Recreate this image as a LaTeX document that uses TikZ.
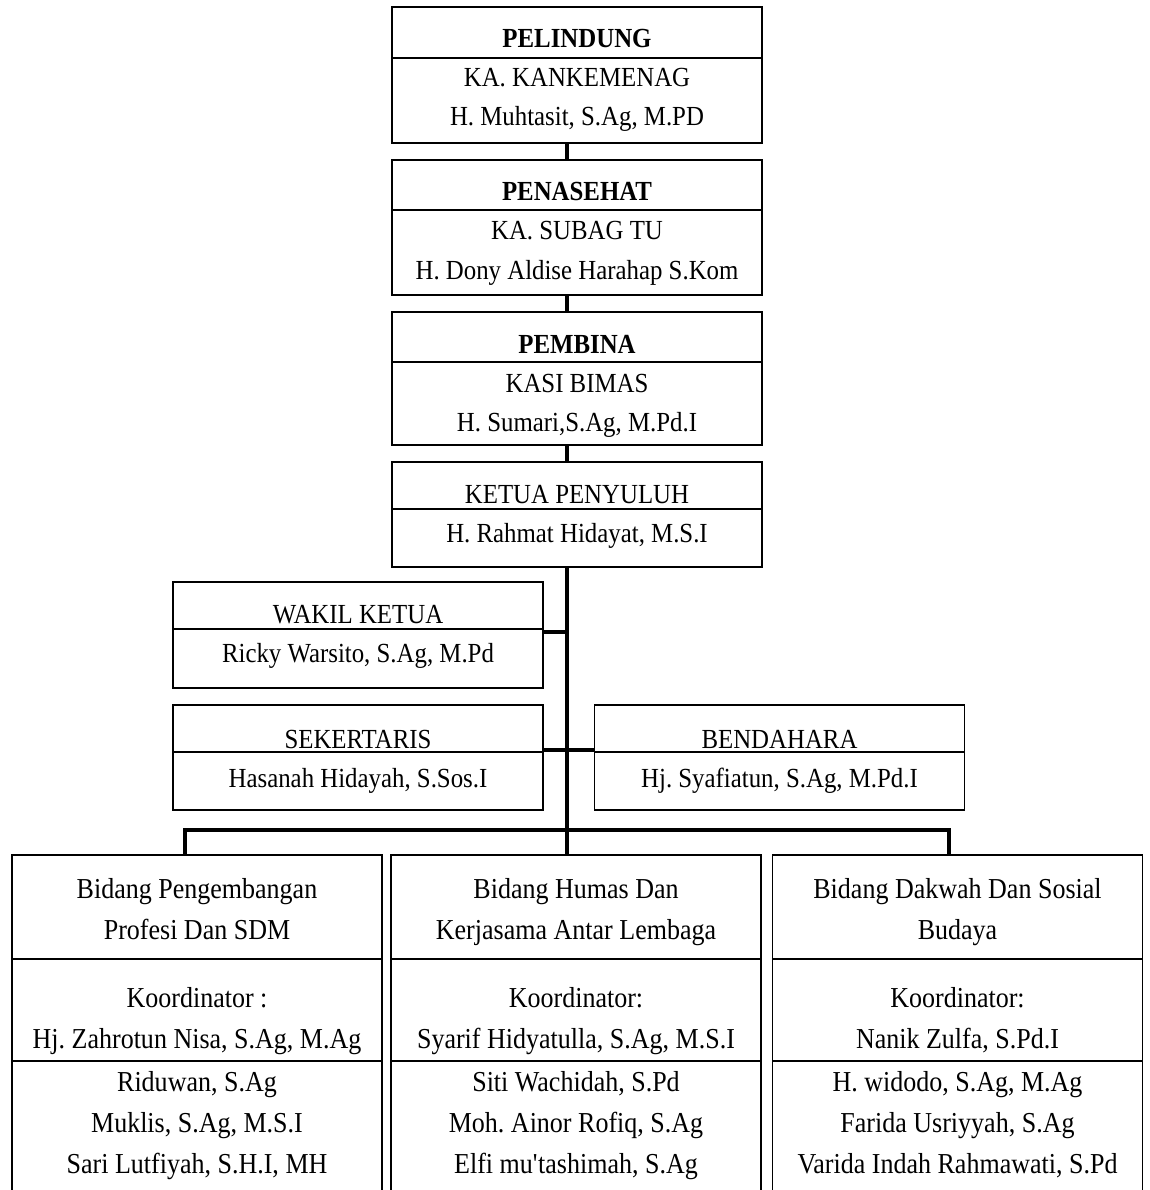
\documentclass[tikz,border=0pt]{standalone}
\usepackage{fontspec}
\setmainfont{Liberation Serif}[FakeStretch=0.9]
\usetikzlibrary{positioning}
\frenchspacing
\tikzstyle{orgbox} = [draw=black, line width=1.3pt, rectangle,
    minimum width=370pt, inner sep=0pt]
\tikzstyle{orgtext} = [font=\fontsize{27.6}{39}\selectfont, align=center,
    inner sep=0pt, anchor=base]
\tikzstyle{bidtext} = [font=\fontsize{28.9}{41}\selectfont, align=center,
    inner sep=0pt, anchor=base]
\tikzstyle{split} = [line width=1.3pt]
\tikzstyle{link} = [line width=3.5pt]
\begin{document}
\begin{tikzpicture}[x=1pt, y=-1pt]
                \useasboundingbox (0,0) rectangle (1149,1190);
                \clip (0,0) rectangle (1149,1190);
                % split heights and the common trunk
                \coordinate (trunk) at (567,0);
                \coordinate (pelsplit) at (0,58);
                \coordinate (pensplit) at (0,210);
                \coordinate (pemsplit) at (0,362);
                \coordinate (ketsplit) at (0,509);
                \coordinate (waksplit) at (0,629);
                \coordinate (wakjoin) at (0,632);
                \coordinate (seksplit) at (0,752);
                \coordinate (sekjoin) at (0,750);
                \coordinate (bus) at (0,830);
                \coordinate (bidsplitA) at (0,959);
                \coordinate (bidsplitB) at (0,1061);
                % top column (text nodes sit on their last baseline)
                \node [orgbox, minimum height=136pt] (pelindung) at (577,75) {};
                \node [orgtext] (pelindungT) at (577,126)
                    {\textbf{PELINDUNG}\\KA. KANKEMENAG\\H. Muhtasit, S.Ag, M.PD};
                \node [orgbox, minimum height=135pt] (penasehat) at (577,227.5) {};
                \node [orgtext] (penasehatT) at (577,279)
                    {\textbf{PENASEHAT}\\KA. SUBAG TU\\H. Dony Aldise Harahap S.Kom};
                \node [orgbox, minimum height=133pt] (pembina) at (577,378.5) {};
                \node [orgtext] (pembinaT) at (577,431)
                    {\textbf{PEMBINA}\\KASI BIMAS\\H. Sumari,S.Ag, M.Pd.I};
                \node [orgbox, minimum height=105pt] (ketua) at (577,514.5) {};
                \node [orgtext] (ketuaT) at (577,542)
                    {KETUA PENYULUH\\H. Rahmat Hidayat, M.S.I};
                % staff
                \node [orgbox, minimum height=106pt] (wakil) at (358,635) {};
                \node [orgtext] (wakilT) at (358,662)
                    {WAKIL KETUA\\Ricky Warsito, S.Ag, M.Pd};
                \node [orgbox, minimum height=105pt] (sekertaris) at (358,757.5) {};
                \node [orgtext] (sekertarisT) at (358,787)
                    {SEKERTARIS\\Hasanah Hidayah, S.Sos.I};
                \node [orgbox, minimum height=105pt] (bendahara) at (779.5,757.5) {};
                \node [orgtext] (bendaharaT) at (779.5,787)
                    {BENDAHARA\\Hj. Syafiatun, S.Ag, M.Pd.I};
                % bidang
                \node [orgbox, minimum height=345pt] (bidA) at (197,1027.5) {};
                \node [bidtext] (bidAhead) at (197,939) {Bidang Pengembangan\\Profesi Dan SDM};
                \node [bidtext] (bidAkoor) at (197,1048) {Koordinator :\\Hj. Zahrotun Nisa, S.Ag, M.Ag};
                \node [bidtext] (bidAmem) at (197,1173)
                    {Riduwan, S.Ag\\Muklis, S.Ag, M.S.I\\Sari Lutfiyah, S.H.I, MH};
                \node [orgbox, minimum height=345pt] (bidB) at (576,1027.5) {};
                \node [bidtext] (bidBhead) at (576,939) {Bidang Humas Dan\\Kerjasama Antar Lembaga};
                \node [bidtext] (bidBkoor) at (576,1048) {Koordinator:\\Syarif Hidyatulla, S.Ag, M.S.I};
                \node [bidtext] (bidBmem) at (576,1173)
                    {Siti Wachidah, S.Pd\\Moh. Ainor Rofiq, S.Ag\\Elfi mu\textquotesingle tashimah, S.Ag};
                \node [orgbox, minimum height=345pt] (bidC) at (957.5,1027.5) {};
                \node [bidtext] (bidChead) at (957.5,939) {Bidang Dakwah Dan Sosial\\Budaya};
                \node [bidtext] (bidCkoor) at (957.5,1048) {Koordinator:\\Nanik Zulfa, S.Pd.I};
                \node [bidtext] (bidCmem) at (957.5,1173)
                    {H. widodo, S.Ag, M.Ag\\Farida Usriyyah, S.Ag\\Varida Indah Rahmawati, S.Pd};
                % split lines
                \draw [split] (pelindung.west |- pelsplit) -- (pelindung.east |- pelsplit);
                \draw [split] (penasehat.west |- pensplit) -- (penasehat.east |- pensplit);
                \draw [split] (pembina.west |- pemsplit) -- (pembina.east |- pemsplit);
                \draw [split] (ketua.west |- ketsplit) -- (ketua.east |- ketsplit);
                \draw [split] (wakil.west |- waksplit) -- (wakil.east |- waksplit);
                \draw [split] (sekertaris.west |- seksplit) -- (sekertaris.east |- seksplit);
                \draw [split] (bendahara.west |- seksplit) -- (bendahara.east |- seksplit);
                \draw [split] (bidA.west |- bidsplitA) -- (bidA.east |- bidsplitA);
                \draw [split] (bidA.west |- bidsplitB) -- (bidA.east |- bidsplitB);
                \draw [split] (bidB.west |- bidsplitA) -- (bidB.east |- bidsplitA);
                \draw [split] (bidB.west |- bidsplitB) -- (bidB.east |- bidsplitB);
                \draw [split] (bidC.west |- bidsplitA) -- (bidC.east |- bidsplitA);
                \draw [split] (bidC.west |- bidsplitB) -- (bidC.east |- bidsplitB);
                % connectors
                \draw [link] (pelindung.south -| trunk) -- (penasehat.north -| trunk);
                \draw [link] (penasehat.south -| trunk) -- (pembina.north -| trunk);
                \draw [link] (pembina.south -| trunk) -- (ketua.north -| trunk);
                \draw [link] (ketua.south -| trunk) -- (bidB.north -| trunk);
                \draw [link] (wakil.east |- wakjoin) -- (trunk |- wakjoin);
                \draw [link] (sekertaris.east |- sekjoin) -- (bendahara.west |- sekjoin);
                \draw [link] ([xshift=-12pt]bidA.north) |- ([xshift=-8.5pt]bidC.north |- bus)
                    -- ([xshift=-8.5pt]bidC.north);
            \end{tikzpicture}
\end{document}
